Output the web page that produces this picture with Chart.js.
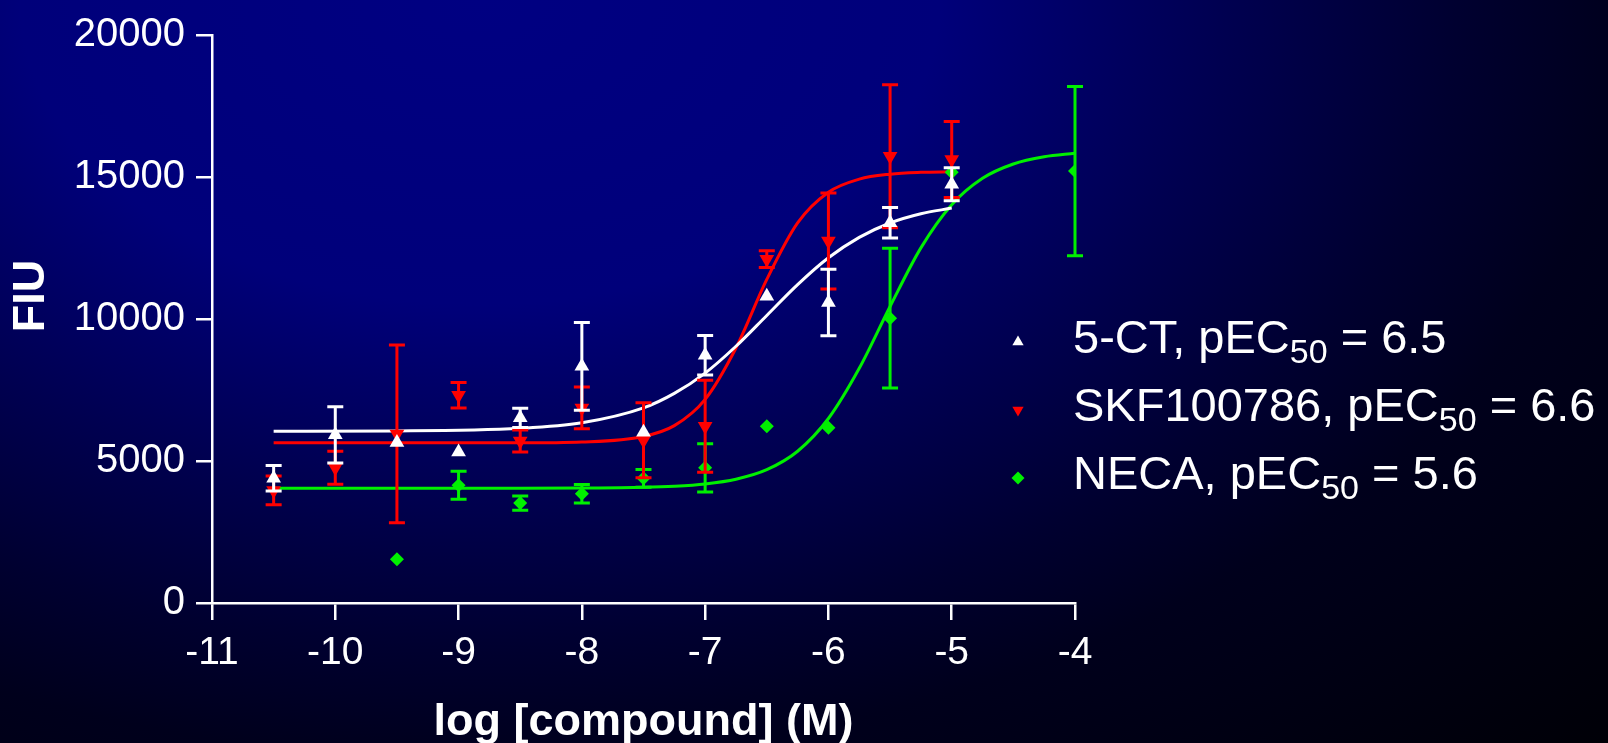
<!DOCTYPE html>
<html>
<head>
<meta charset="utf-8">
<title>FIU dose response</title>
<script src="https://cdn.jsdelivr.net/npm/chart.js@4.4.1/dist/chart.umd.min.js"></script>
<style>
  html, body { margin: 0; padding: 0; }
  body {
    width: 1608px;
    height: 743px;
    overflow: hidden;
    background: radial-gradient(1150px 760px at 480px 0px, #000082 0%, #00007a 40%, #000050 65%, #000030 85%, #00001c 100%, #000006 140%);
  }
  canvas { display: block; }
</style>
</head>
<body>
<canvas id="myChart" width="1608" height="743"></canvas>
<script>
// measured points (mean and sem), log [compound] in M
const ctDoses = [-10.5, -10, -9.5, -9, -8.5, -8, -7.5, -7, -6.5, -6, -5.5, -5];
const ctMeans = [4390, 5920, 5650, 5320, 6520, 8335, 6010, 8720, 10800, 10580, 13390, 14745];
const ctSem = [450, 990, 0, 0, 340, 1545, 0, 695, 0, 1170, 535, 580];

const skfDoses = [-10.5, -10, -9.5, -9, -8.5, -8, -7.5, -7, -6.5, -6, -5.5, -5];
const skfMeans = [3965, 4760, 5955, 7315, 5705, 6870, 5730, 6220, 12105, 12750, 15730, 15615];
const skfSem = [505, 580, 3130, 450, 390, 735, 1320, 1620, 295, 1690, 2520, 1335];

const necaDoses = [-9.5, -9, -8.5, -8, -7.5, -7, -6.5, -6, -5.5, -5, -4];
const necaMeans = [1540, 4145, 3520, 3850, 4390, 4760, 6220, 6175, 10030, 15170, 15210];
const necaSem = [0, 495, 250, 325, 310, 850, 0, 0, 2460, 0, 2980];

// fitted curves
const fitDoses = [-10.5, -9.5, -8.5, -8, -7.5, -7.25, -7, -6.75, -6.5, -6.25, -6, -5.75, -5.5, -5.25, -5];
const ctFit = [6050, 6060, 6150, 6345, 6870, 7380, 8095, 9040, 10125, 11210, 12155, 12875, 13380, 13705, 13905];
const skfFit = [5640, 5640, 5640, 5670, 5865, 6245, 7170, 8980, 11395, 13385, 14465, 14925, 15100, 15165, 15185];
const necaFitDoses = [-10.5, -9.5, -8.5, -8, -7.5, -7.25, -7, -6.75, -6.5, -6.25, -6, -5.75, -5.5, -5.25, -5, -4.75, -4.5, -4.25, -4];
const necaFit = [4040, 4040, 4040, 4048, 4075, 4113, 4193, 4359, 4694, 5344, 6496, 8263, 10440, 12505, 14023, 14954, 15457, 15712, 15836];

// legend text
const legendNames = ["5-CT, pEC", "SKF100786, pEC", "NECA, pEC"];
const legendValues = ["6.5", "6.6", "5.6"];

const xTicks = [-11, -10, -9, -8, -7, -6, -5, -4];
const yTicks = [0, 5000, 10000, 15000, 20000];

const WHITE = "#ffffff";
const RED = "#ff0000";
const GREEN = "#00f000";
const FONT = "'Liberation Sans', Arial, Helvetica, sans-serif";

document.addEventListener("DOMContentLoaded", () => {
  Chart.defaults.font.family = FONT;
  Chart.defaults.color = WHITE;

  const toPoints = (xs, ys) => xs.map((x, i) => ({ x: x, y: ys[i] }));

  // draws mean +/- sem bars under each point dataset
  const errorBars = {
    id: "errorBars",
    beforeDatasetDraw(chart, args) {
      const ds = chart.data.datasets[args.index];
      if (!ds.errors) return;
      const ctx = chart.ctx;
      const xScale = chart.scales.x;
      const yScale = chart.scales.y;
      ctx.save();
      ctx.strokeStyle = ds.backgroundColor;
      ctx.lineWidth = 3;
      ds.data.forEach((p, i) => {
        const err = ds.errors[i];
        if (!err) return;
        const px = xScale.getPixelForValue(p.x);
        const top = yScale.getPixelForValue(p.y + err);
        const bot = yScale.getPixelForValue(p.y - err);
        ctx.beginPath();
        ctx.moveTo(px, top);
        ctx.lineTo(px, bot);
        ctx.moveTo(px - 8, top);
        ctx.lineTo(px + 8, top);
        ctx.moveTo(px - 8, bot);
        ctx.lineTo(px + 8, bot);
        ctx.stroke();
      });
      ctx.restore();
    },
  };

  // legend on the right with subscript 50, plus the rotated y title
  const sideLegend = {
    id: "sideLegend",
    afterDraw(chart) {
      const ctx = chart.ctx;
      const area = chart.chartArea;
      const styles = [
        { pointStyle: "triangle", rotation: 0, color: WHITE },
        { pointStyle: "triangle", rotation: 180, color: RED },
        { pointStyle: "rectRot", rotation: 0, color: GREEN },
      ];
      ctx.save();
      ctx.textBaseline = "alphabetic";
      ctx.textAlign = "left";
      legendNames.forEach((name, i) => {
        const baseline = 353 + i * 68;
        const textX = area.right - 2;
        ctx.fillStyle = styles[i].color;
        Chart.helpers.drawPoint(
          ctx,
          { pointStyle: styles[i].pointStyle, rotation: styles[i].rotation, radius: 6.5, borderWidth: 0 },
          area.right - 57,
          baseline - 11
        );
        ctx.fillStyle = WHITE;
        ctx.font = "47px " + FONT;
        ctx.fillText(name, textX, baseline);
        let x = textX + ctx.measureText(name).width;
        ctx.font = "34px " + FONT;
        ctx.fillText("50", x, baseline + 10);
        x += ctx.measureText("50").width;
        ctx.font = "47px " + FONT;
        ctx.fillText(" = " + legendValues[i], x, baseline);
      });

      ctx.translate(32, 296);
      ctx.rotate(-Math.PI / 2);
      ctx.textAlign = "center";
      ctx.textBaseline = "middle";
      ctx.font = "bold 45px " + FONT;
      ctx.fillText("FIU", 0, 0);
      ctx.restore();
    },
  };

  const ctx = document.getElementById("myChart").getContext("2d");
  const data = {
    datasets: [
      {
        label: "5-CT",
        data: toPoints(ctDoses, ctMeans),
        errors: ctSem,
        backgroundColor: WHITE,
        pointStyle: "triangle",
        pointRadius: 8.5,
        pointBorderWidth: 0,
      },
      {
        label: "SKF100786",
        data: toPoints(skfDoses, skfMeans),
        errors: skfSem,
        backgroundColor: RED,
        pointStyle: "triangle",
        pointRotation: 180,
        pointRadius: 8.5,
        pointBorderWidth: 0,
      },
      {
        label: "NECA",
        data: toPoints(necaDoses, necaMeans),
        errors: necaSem,
        backgroundColor: GREEN,
        pointStyle: "rectRot",
        pointRadius: 7,
        pointBorderWidth: 0,
      },
      {
        type: "line",
        label: "5-CT fit",
        data: toPoints(fitDoses, ctFit),
        borderColor: WHITE,
        borderWidth: 3,
        pointRadius: 0,
        cubicInterpolationMode: "monotone",
        fill: false,
      },
      {
        type: "line",
        label: "SKF100786 fit",
        data: toPoints(fitDoses, skfFit),
        borderColor: RED,
        borderWidth: 3,
        pointRadius: 0,
        cubicInterpolationMode: "monotone",
        fill: false,
      },
      {
        type: "line",
        label: "NECA fit",
        data: toPoints(necaFitDoses, necaFit),
        borderColor: GREEN,
        borderWidth: 3,
        pointRadius: 0,
        cubicInterpolationMode: "monotone",
        fill: false,
      },
    ],
  };

  const config = {
    type: "scatter",
    data: data,
    plugins: [errorBars, sideLegend],
    options: {
      responsive: false,
      devicePixelRatio: 1,
      animation: false,
      events: [],
      layout: { padding: { top: 29, right: 533, bottom: 0, left: 0 } },
      plugins: {
        legend: { display: false },
        tooltip: { enabled: false },
      },
      scales: {
        x: {
          type: "linear",
          min: xTicks[0],
          max: xTicks[xTicks.length - 1],
          afterFit: (scale) => {
            scale.height = 140;
          },
          afterBuildTicks: (scale) => {
            scale.ticks = xTicks.map((v) => ({ value: v }));
          },
          ticks: {
            color: WHITE,
            font: { size: 39 },
            padding: 10,
            callback: (v) => String(v),
          },
          grid: {
            drawOnChartArea: false,
            color: WHITE,
            lineWidth: 2.5,
            tickLength: 17,
          },
          border: { color: WHITE, width: 2.5 },
          title: {
            display: true,
            text: "log [compound] (M)",
            color: WHITE,
            font: { size: 45, weight: "bold" },
            padding: { top: 0, bottom: -7 },
          },
        },
        y: {
          type: "linear",
          min: yTicks[0],
          max: yTicks[yTicks.length - 1],
          afterFit: (scale) => {
            scale.width = 212;
          },
          afterBuildTicks: (scale) => {
            scale.ticks = yTicks.map((v) => ({ value: v }));
          },
          ticks: {
            color: WHITE,
            font: { size: 40 },
            padding: 11,
            callback: (v) => String(v),
          },
          grid: {
            drawOnChartArea: false,
            color: WHITE,
            lineWidth: 2.5,
            tickLength: 16,
          },
          border: { color: WHITE, width: 2.5 },
        },
      },
    },
  };

  const myChart = new Chart(ctx, config);
});
</script>
</body>
</html>
